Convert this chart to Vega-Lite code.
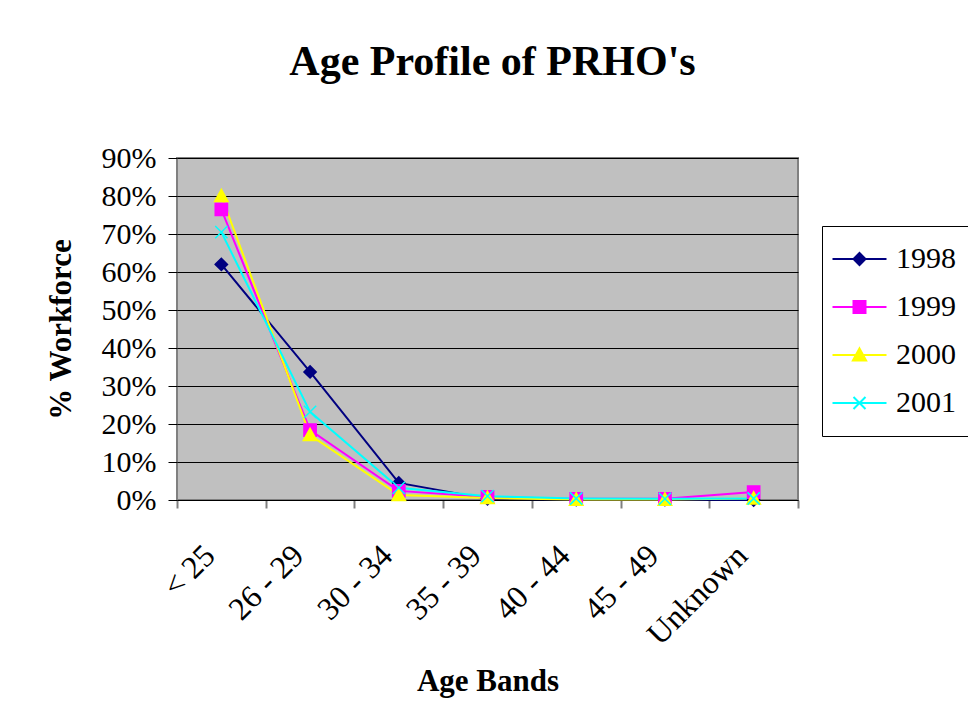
{
  "$schema": "https://vega.github.io/schema/vega-lite/v6.json",
  "width": 621,
  "height": 342,
  "autosize": {"type": "none"},
  "padding": {"left": 177, "top": 158, "right": 170, "bottom": 226},
  "background": "white",
  "title": {
    "text": "Age Profile of PRHO's",
    "font": "Liberation Serif",
    "fontSize": 42,
    "fontWeight": "bold",
    "color": "black",
    "anchor": "middle",
    "frame": "group",
    "baseline": "alphabetic",
    "offset": 26,
    "dx": 5
  },
  "data": {
    "values": [
      {"band": "< 25", "year": "1998", "value": 0.62},
      {"band": "< 25", "year": "1999", "value": 0.765},
      {"band": "< 25", "year": "2000", "value": 0.80},
      {"band": "< 25", "year": "2001", "value": 0.705},
      {"band": "26 - 29", "year": "1998", "value": 0.337},
      {"band": "26 - 29", "year": "1999", "value": 0.184},
      {"band": "26 - 29", "year": "2000", "value": 0.171},
      {"band": "26 - 29", "year": "2001", "value": 0.232},
      {"band": "30 - 34", "year": "1998", "value": 0.045},
      {"band": "30 - 34", "year": "1999", "value": 0.024},
      {"band": "30 - 34", "year": "2000", "value": 0.013},
      {"band": "30 - 34", "year": "2001", "value": 0.032},
      {"band": "35 - 39", "year": "1998", "value": 0.003},
      {"band": "35 - 39", "year": "1999", "value": 0.008},
      {"band": "35 - 39", "year": "2000", "value": 0.005},
      {"band": "35 - 39", "year": "2001", "value": 0.01},
      {"band": "40 - 44", "year": "1998", "value": 0.001},
      {"band": "40 - 44", "year": "1999", "value": 0.003},
      {"band": "40 - 44", "year": "2000", "value": 0.001},
      {"band": "40 - 44", "year": "2001", "value": 0.004},
      {"band": "45 - 49", "year": "1998", "value": 0.001},
      {"band": "45 - 49", "year": "1999", "value": 0.003},
      {"band": "45 - 49", "year": "2000", "value": 0.001},
      {"band": "45 - 49", "year": "2001", "value": 0.003},
      {"band": "Unknown", "year": "1998", "value": 0.0},
      {"band": "Unknown", "year": "1999", "value": 0.021},
      {"band": "Unknown", "year": "2000", "value": 0.004},
      {"band": "Unknown", "year": "2001", "value": 0.004}
    ]
  },
  "encoding": {
    "x": {
      "field": "band",
      "type": "nominal",
      "sort": ["< 25", "26 - 29", "30 - 34", "35 - 39", "40 - 44", "45 - 49", "Unknown"],
      "scale": {"type": "band", "paddingInner": 0, "paddingOuter": 0},
      "axis": {
        "title": "Age Bands",
        "labelAngle": -45,
        "labelAlign": "right",
        "labelBaseline": "middle",
        "labelPadding": 42,
        "labelOffset": -12,
        "labelFontSize": 32,
        "tickBand": "extent",
        "tickColor": "#808080",
        "tickWidth": 2,
        "tickSize": 8,
        "domainColor": "black",
        "domainWidth": 1,
        "grid": false,
        "titlePadding": 16
      }
    },
    "y": {
      "field": "value",
      "type": "quantitative",
      "scale": {"domain": [0, 0.9], "nice": false, "zero": true},
      "axis": {
        "title": "% Workforce",
        "format": ".0%",
        "values": [0, 0.1, 0.2, 0.3, 0.4, 0.5, 0.6, 0.7, 0.8, 0.9],
        "grid": true,
        "gridColor": "black",
        "gridWidth": 1,
        "gridOpacity": 1,
        "domain": false,
        "tickColor": "black",
        "tickSize": 9,
        "labelPadding": 12,
        "titlePadding": 24
      }
    }
  },
  "layer": [
    {
      "mark": {"type": "line", "strokeWidth": 2},
      "encoding": {
        "color": {
          "field": "year",
          "type": "nominal",
          "scale": {"domain": ["1998", "1999", "2000", "2001"], "range": ["#000080", "#FF00FF", "#FFFF00", "#00FFFF"]},
          "legend": null
        }
      }
    },
    {
      "mark": {"type": "point", "filled": true, "size": 150, "opacity": 1, "strokeWidth": 1.5},
      "encoding": {
        "shape": {
          "field": "year",
          "type": "nominal",
          "scale": {
            "domain": ["1998", "1999", "2000", "2001"],
            "range": ["M-1,0L0,-1L1,0L0,1Z", "M-1,-1L1,-1L1,1L-1,1Z", "M0,-1.1L1.1,0.9L-1.1,0.9Z", "M-1,-1L1,1M-1,1L1,-1"]
          },
          "legend": null
        },
        "color": {"field": "year", "type": "nominal", "legend": null},
        "stroke": {
          "field": "year",
          "type": "nominal",
          "scale": {"domain": ["1998", "1999", "2000", "2001"], "range": ["#000080", "#FF00FF", "#FFFF00", "#00FFFF"]},
          "legend": null
        }
      }
    },
    {
      "transform": [{"filter": "datum.value > 1"}],
      "mark": {"type": "point", "filled": true, "size": 144, "opacity": 1, "strokeWidth": 2},
      "encoding": {
        "shape": {
          "field": "year",
          "type": "nominal",
          "scale": {
            "domain": ["1998", "1999", "2000", "2001"],
            "range": [
              "M-4.5,0L4.5,0M-1,0L0,-1L1,0L0,1Z",
              "M-4.5,0L4.5,0M-1,-1L1,-1L1,1L-1,1Z",
              "M-4.5,0L4.5,0M0,-1.1L1.1,0.9L-1.1,0.9Z",
              "M-4.5,0L4.5,0M-1,-1L1,1M-1,1L1,-1"
            ]
          },
          "legend": {"title": null, "orient": "none", "legendX": 645, "legendY": 68}
        },
        "color": {
          "field": "year",
          "type": "nominal",
          "legend": {"title": null, "orient": "none", "legendX": 645, "legendY": 68}
        },
        "stroke": {
          "field": "year",
          "type": "nominal",
          "legend": {"title": null, "orient": "none", "legendX": 645, "legendY": 68}
        }
      }
    }
  ],
  "resolve": {
    "scale": {"shape": "independent"},
    "legend": {"color": "independent", "stroke": "independent", "shape": "independent"}
  },
  "config": {
    "view": {"fill": "#C0C0C0", "stroke": "#808080", "strokeWidth": 2},
    "axis": {
      "labelFont": "Liberation Serif",
      "labelFontSize": 30,
      "labelColor": "black",
      "titleFont": "Liberation Serif",
      "titleFontSize": 31,
      "titleFontWeight": "bold",
      "titleColor": "black"
    },
    "legend": {
      "labelFont": "Liberation Serif",
      "labelFontSize": 30,
      "labelColor": "black",
      "strokeColor": "black",
      "fillColor": "white",
      "padding": 18,
      "symbolSize": 144,
      "symbolStrokeWidth": 2,
      "symbolOffset": 4.5,
      "labelOffset": 21.5,
      "rowPadding": 18
    }
  }
}
